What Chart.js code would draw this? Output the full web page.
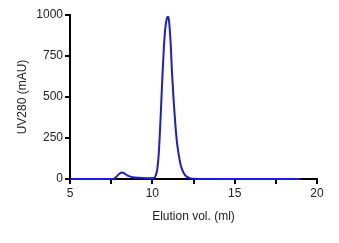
<!DOCTYPE html>
<html>
<head>
<meta charset="utf-8">
<script src="https://cdn.jsdelivr.net/npm/chart.js@4/dist/chart.umd.min.js"></script>
<style>
  html, body { margin: 0; padding: 0; background: #fff; }
  #wrap { width: 339px; height: 243px; }
</style>
</head>
<body>
<div id="wrap"><canvas id="c"></canvas></div>
<script>
// elution volume (ml) and UV280 absorbance (mAU)
const elutionVol = [5, 7.6, 7.8, 8.0, 8.15, 8.3, 8.5, 8.8, 9.2, 9.7, 10.1, 10.2, 10.3, 10.4, 10.5, 10.6, 10.7, 10.8, 10.9, 10.95, 11.0, 11.1, 11.2, 11.3, 11.4, 11.5, 11.6, 11.7, 11.8, 11.9, 12.0, 12.2, 12.5, 15, 19];
const uv280 = [0, 0, 12, 32, 40, 34, 20, 11, 7, 5, 6, 20, 60, 170, 370, 600, 800, 930, 985, 990, 975, 850, 640, 470, 330, 220, 150, 95, 60, 38, 22, 8, 2, 0, 0];
const xTicks = [5, 10, 15, 20];
const yTicks = [0, 250, 500, 750, 1000];

const points = elutionVol.map((v, i) => ({ x: v, y: uv280[i] }));
const font = { family: "'Liberation Sans', Arial, sans-serif", size: 12 };

new Chart(document.getElementById("c"), {
  type: "scatter",
  data: {
    datasets: [{
      data: points,
      showLine: true,
      borderColor: "#1d1dd9",
      borderWidth: 2,
      pointRadius: 0,
      cubicInterpolationMode: "monotone",
      clip: false,
    }],
  },
  options: {
    responsive: true,
    maintainAspectRatio: false,
    animation: false,
    layout: { padding: { left: 0, right: 22, top: 15, bottom: 0 } },
    plugins: { legend: { display: false }, tooltip: { enabled: false } },
    scales: {
      x: {
        type: "linear",
        min: 5,
        max: 20,
        afterFit: scale => { scale.height = 64; },
        ticks: {
          stepSize: 2.5,
          color: "#222",
          font: font,
          padding: 2,
          maxRotation: 0,
          callback: v => xTicks.includes(v) ? String(v) : "",
        },
        grid: { drawOnChartArea: false, drawTicks: true, tickLength: 5, color: "#000", lineWidth: 2 },
        border: { color: "#000", width: 2 },
        title: { display: true, text: "Elution vol. (ml)", color: "#222", font: font, padding: { top: 0, bottom: 19 } },
      },
      y: {
        min: 0,
        max: 1000,
        afterFit: scale => { scale.width = 70; },
        afterBuildTicks: scale => { scale.ticks = yTicks.map(v => ({ value: v })); },
        ticks: { color: "#222", font: font, padding: 2, callback: v => String(v) },
        grid: { drawOnChartArea: false, drawTicks: true, tickLength: 5, color: "#000", lineWidth: 2 },
        border: { color: "#000", width: 2 },
        title: { display: true, text: "UV280 (mAU)", color: "#222", font: font, padding: { top: 15, bottom: 0 } },
      },
    },
  },
});
</script>
</body>
</html>
